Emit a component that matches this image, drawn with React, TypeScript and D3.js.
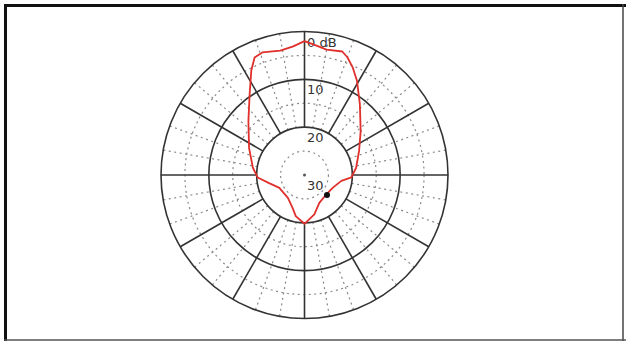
import { useEffect, useRef } from "react";
import { select, scaleLinear, lineRadial, curveLinearClosed, range } from "d3";

// pattern (angle clockwise from top, deg) -> relative level (dB)
const angles = [0, 5, 10, 17, 20, 24, 29, 38, 52, 66, 82, 93, 99, 114, 132, 152, 166, 180,
  192, 200, 216, 243, 257, 267, 278, 296, 314, 326, 333, 337, 341, 349, 355];
const levels = [-2.0, -2.8, -3.4, -3.0, -3.8, -5.3, -7.4, -11.2, -15.1, -17.5, -19.1, -20.2, -22.2, -23.5, -23.9, -23.4, -21.5, -19.8,
  -21.2, -22.7, -24.1, -24.1, -22.4, -20.2, -19.1, -17.1, -13.7, -9.5, -5.5, -3.3, -2.9, -3.5, -3.0];

const ringLevels = [0, -10, -20];
const minorRingLevels = [-5, -15, -25];
const ringLabels = ["0 dB", "10", "20", "30"];
const ringLabelLevels = [0, -10, -20, -30];

export default function App() {
  const svgRef = useRef<SVGSVGElement>(null);

  useEffect(() => {
    const svg = svgRef.current;
    if (svg === null) return;
    const W = 628, H = 342;
    const cx = 304.5, cy = 175, R = 143.5;

    const r = scaleLinear().domain([-30, 0]).range([0, R]);
    const rad = (d: number) => (d * Math.PI) / 180;

    const root = select(svg);
    root.selectAll("*").remove();

    root.append("rect").attr("width", W).attr("height", H).attr("fill", "#fff");

    // frame
    root.append("line").attr("x1", 5.5).attr("x2", 5.5).attr("y1", 4).attr("y2", 341).attr("stroke", "#111").attr("stroke-width", 3);
    root.append("line").attr("x1", 4).attr("x2", 626).attr("y1", 5.5).attr("y2", 5.5).attr("stroke", "#111").attr("stroke-width", 3);
    root.append("line").attr("x1", 623).attr("x2", 623).attr("y1", 4).attr("y2", 341).attr("stroke", "#444").attr("stroke-width", 1.5);
    root.append("line").attr("x1", 4).attr("x2", 626).attr("y1", 340).attr("y2", 340).attr("stroke", "#555").attr("stroke-width", 1.5);

    const g = root.append("g").attr("transform", `translate(${cx},${cy})`);

    // minor dotted rings
    g.selectAll("circle.minor")
      .data(minorRingLevels)
      .join("circle")
      .attr("class", "minor")
      .attr("r", d => r(d))
      .attr("fill", "none")
      .attr("stroke", "#8a8a8a")
      .attr("stroke-width", 1.2)
      .attr("stroke-dasharray", "2,3.5");

    // minor dotted spokes every 10 deg
    const minorSpokes = range(0, 360, 10).filter(a => a % 30 !== 0);
    g.selectAll("line.minor")
      .data(minorSpokes)
      .join("line")
      .attr("class", "minor")
      .attr("x1", a => r(-20) * Math.sin(rad(a)))
      .attr("y1", a => -r(-20) * Math.cos(rad(a)))
      .attr("x2", a => R * Math.sin(rad(a)))
      .attr("y2", a => -R * Math.cos(rad(a)))
      .attr("stroke", "#8a8a8a")
      .attr("stroke-width", 1.2)
      .attr("stroke-dasharray", "2,3.5");

    // major spokes
    g.selectAll("line.major")
      .data(range(0, 360, 30))
      .join("line")
      .attr("class", "major")
      .attr("x1", a => r(-20) * Math.sin(rad(a)))
      .attr("y1", a => -r(-20) * Math.cos(rad(a)))
      .attr("x2", a => R * Math.sin(rad(a)))
      .attr("y2", a => -R * Math.cos(rad(a)))
      .attr("stroke", "#333")
      .attr("stroke-width", 1.6);

    // major rings
    g.selectAll("circle.major")
      .data(ringLevels)
      .join("circle")
      .attr("class", "major")
      .attr("r", d => r(d))
      .attr("fill", "none")
      .attr("stroke", "#333")
      .attr("stroke-width", 1.6);

    g.append("circle").attr("r", 1.5).attr("fill", "#555");

    // labels
    g.selectAll("text.lbl")
      .data(ringLabels)
      .join("text")
      .attr("class", "lbl")
      .attr("x", 2.5)
      .attr("y", (_, i) => -r(ringLabelLevels[i]) + 15)
      .attr("font-family", "DejaVu Sans, sans-serif")
      .attr("font-size", 13)
      .attr("fill", "#333")
      .text(d => d);

    // pattern
    const pts: [number, number][] = angles.map((a, i) => [rad(a), r(levels[i])]);
    const line = lineRadial().curve(curveLinearClosed);
    g.append("path")
      .attr("d", line(pts))
      .attr("fill", "none")
      .attr("stroke", "#e0302c")
      .attr("stroke-width", 1.8)
      .attr("stroke-linejoin", "round");

    // marker
    g.append("circle").attr("cx", 22.5).attr("cy", 20).attr("r", 3).attr("fill", "#111");
  }, []);

  return (
    <svg ref={svgRef} width={628} height={342} style={{ position: "absolute", left: 0, top: 0 }} />
  );
}
